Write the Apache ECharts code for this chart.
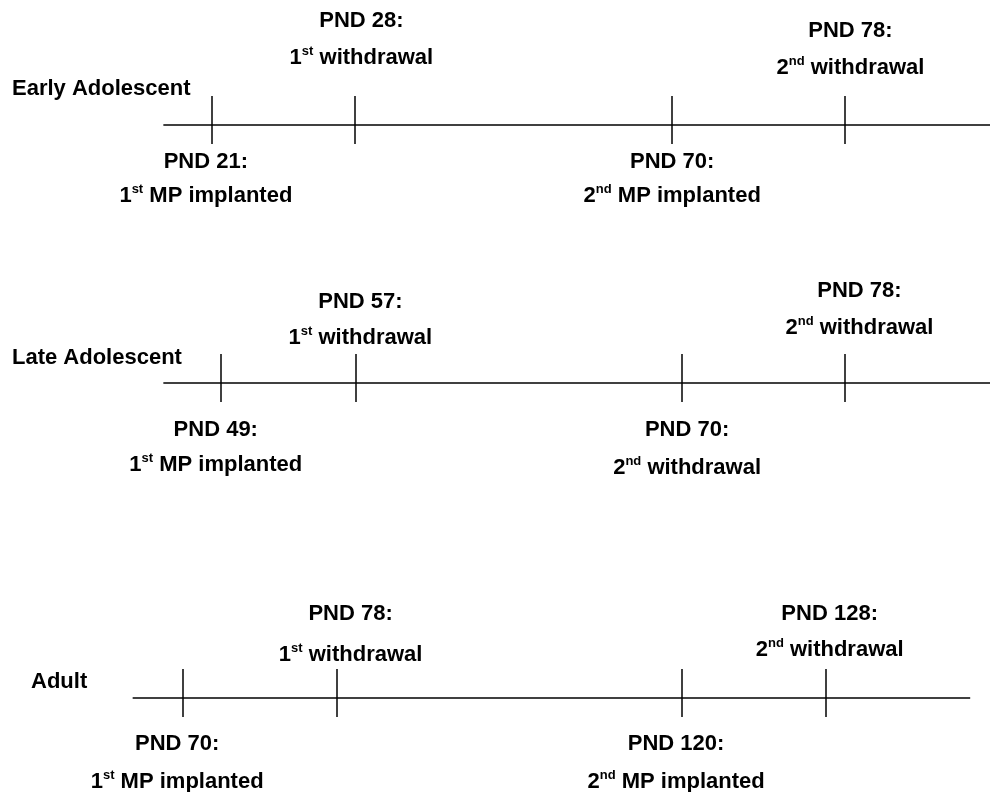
<!DOCTYPE html>
<html>
<head>
<meta charset="utf-8">
<script src="https://cdn.jsdelivr.net/npm/echarts@6/dist/echarts.min.js"></script>
<style>
html,body{margin:0;padding:0;background:#fff;}
#chart{width:990px;height:792px;}
</style>
</head>
<body>
<div id="chart"></div>
<script>
// ---------------- DATA ----------------
const rowNames = ['Early Adolescent', 'Late Adolescent', 'Adult'];

const earlyDays   = [21, 28, 70, 78];
const earlyEvents = ['1st MP implanted', '1st withdrawal', '2nd MP implanted', '2nd withdrawal'];
const earlyPos    = [21.4, 35.9, 67.9, 85.4];   // schematic position on timeline (0-100)
const earlySpan   = [16.5, 100];

const lateDays    = [49, 57, 70, 78];
const lateEvents  = ['1st MP implanted', '1st withdrawal', '2nd withdrawal', '2nd withdrawal'];
const latePos     = [22.3, 36.0, 68.9, 85.4];
const lateSpan    = [16.5, 100];

const adultDays   = [70, 78, 120, 128];
const adultEvents = ['1st MP implanted', '1st withdrawal', '2nd MP implanted', '2nd withdrawal'];
const adultPos    = [18.5, 34.0, 68.9, 83.4];
const adultSpan   = [13.4, 98.0];

// ---------------- LAYOUT / STYLE ----------------
const FONT = '"Liberation Sans", Arial, Helvetica, sans-serif';
const rowLayout = [
  { lineY: 125, labelX: 12, labelY: 90,
    off: [[-6, 37, 71], [6, -104, -67], [0, 37, 71], [5, -94, -57]] },
  { lineY: 383, labelX: 12, labelY: 359,
    off: [[-5, 47, 82], [4, -81, -45], [5, 47, 85], [14, -92, -55]] },
  { lineY: 698, labelX: 31, labelY: 683,
    off: [[-6, 46, 84], [14, -84, -43], [-6, 46, 84], [4, -84, -48]] }
];
const TICK_UP = 29, TICK_DOWN = 19;

const rows = [
  { days: earlyDays, events: earlyEvents, pos: earlyPos, span: earlySpan },
  { days: lateDays,  events: lateEvents,  pos: latePos,  span: lateSpan },
  { days: adultDays, events: adultEvents, pos: adultPos, span: adultSpan }
];

function richEvent(txt) {
  const m = txt.match(/^(\d+)(st|nd|rd|th)(.*)$/);
  if (!m) return '{b|' + txt + '}';
  return '{b|' + m[1] + '}{s|' + m[2] + '}{b|' + m[3] + '}';
}
const richStyles = {
  b: { fontFamily: FONT, fontWeight: 'bold', fontSize: 22, fill: '#000', color: '#000', lineHeight: 26 },
  s: { fontFamily: FONT, fontWeight: 'bold', fontSize: 13, fill: '#000', color: '#000', lineHeight: 18, verticalAlign: 'top' }
};

const grid = [], xAxis = [], yAxis = [], series = [], graphic = [];

rows.forEach((r, i) => {
  const L = rowLayout[i];
  grid.push({ left: 0, right: 0, top: L.lineY - TICK_UP, height: TICK_UP + TICK_DOWN, containLabel: false });
  xAxis.push({ type: 'value', gridIndex: i, min: 0, max: 100, show: false });
  yAxis.push({ type: 'value', gridIndex: i, min: -TICK_DOWN, max: TICK_UP, show: false });

  // timeline line
  series.push({
    type: 'line', xAxisIndex: i, yAxisIndex: i, silent: true, symbol: 'none',
    data: [[r.span[0], 0], [r.span[1], 0]],
    lineStyle: { color: '#000', width: 1.5 }
  });
  // ticks + labels
  series.push({
    type: 'custom', xAxisIndex: i, yAxisIndex: i, silent: true, clip: false,
    data: r.pos.map((p, k) => [p, r.days[k]]),
    renderItem: function (params, api) {
      const k = params.dataIndex;
      const a = api.coord([api.value(0), TICK_UP]);
      const b = api.coord([api.value(0), -TICK_DOWN]);
      const c = api.coord([api.value(0), 0]);
      const x = Math.round(a[0]);
      const o = L.off[k];
      return {
        type: 'group',
        children: [
          { type: 'line', shape: { x1: x, y1: a[1], x2: x, y2: b[1] },
            style: { stroke: '#000', lineWidth: 1.5 } },
          { type: 'text', x: c[0] + o[0], y: c[1] + o[1],
            style: { text: '{b|PND ' + api.value(1) + ':}', rich: richStyles,
                     align: 'center', verticalAlign: 'middle', fill: '#000' } },
          { type: 'text', x: c[0] + o[0], y: c[1] + o[2],
            style: { text: richEvent(r.events[k]), rich: richStyles,
                     align: 'center', verticalAlign: 'middle', fill: '#000' } }
        ]
      };
    }
  });

  graphic.push({
    type: 'text', left: L.labelX, top: L.labelY - 12,
    style: { text: rowNames[i], font: 'bold 22px ' + FONT, fill: '#000' }
  });
});

const chart = echarts.init(document.getElementById('chart'), null, { renderer: 'canvas' });
chart.setOption({
  backgroundColor: '#fff',
  animation: false,
  grid, xAxis, yAxis, series, graphic
});
</script>
</body>
</html>
